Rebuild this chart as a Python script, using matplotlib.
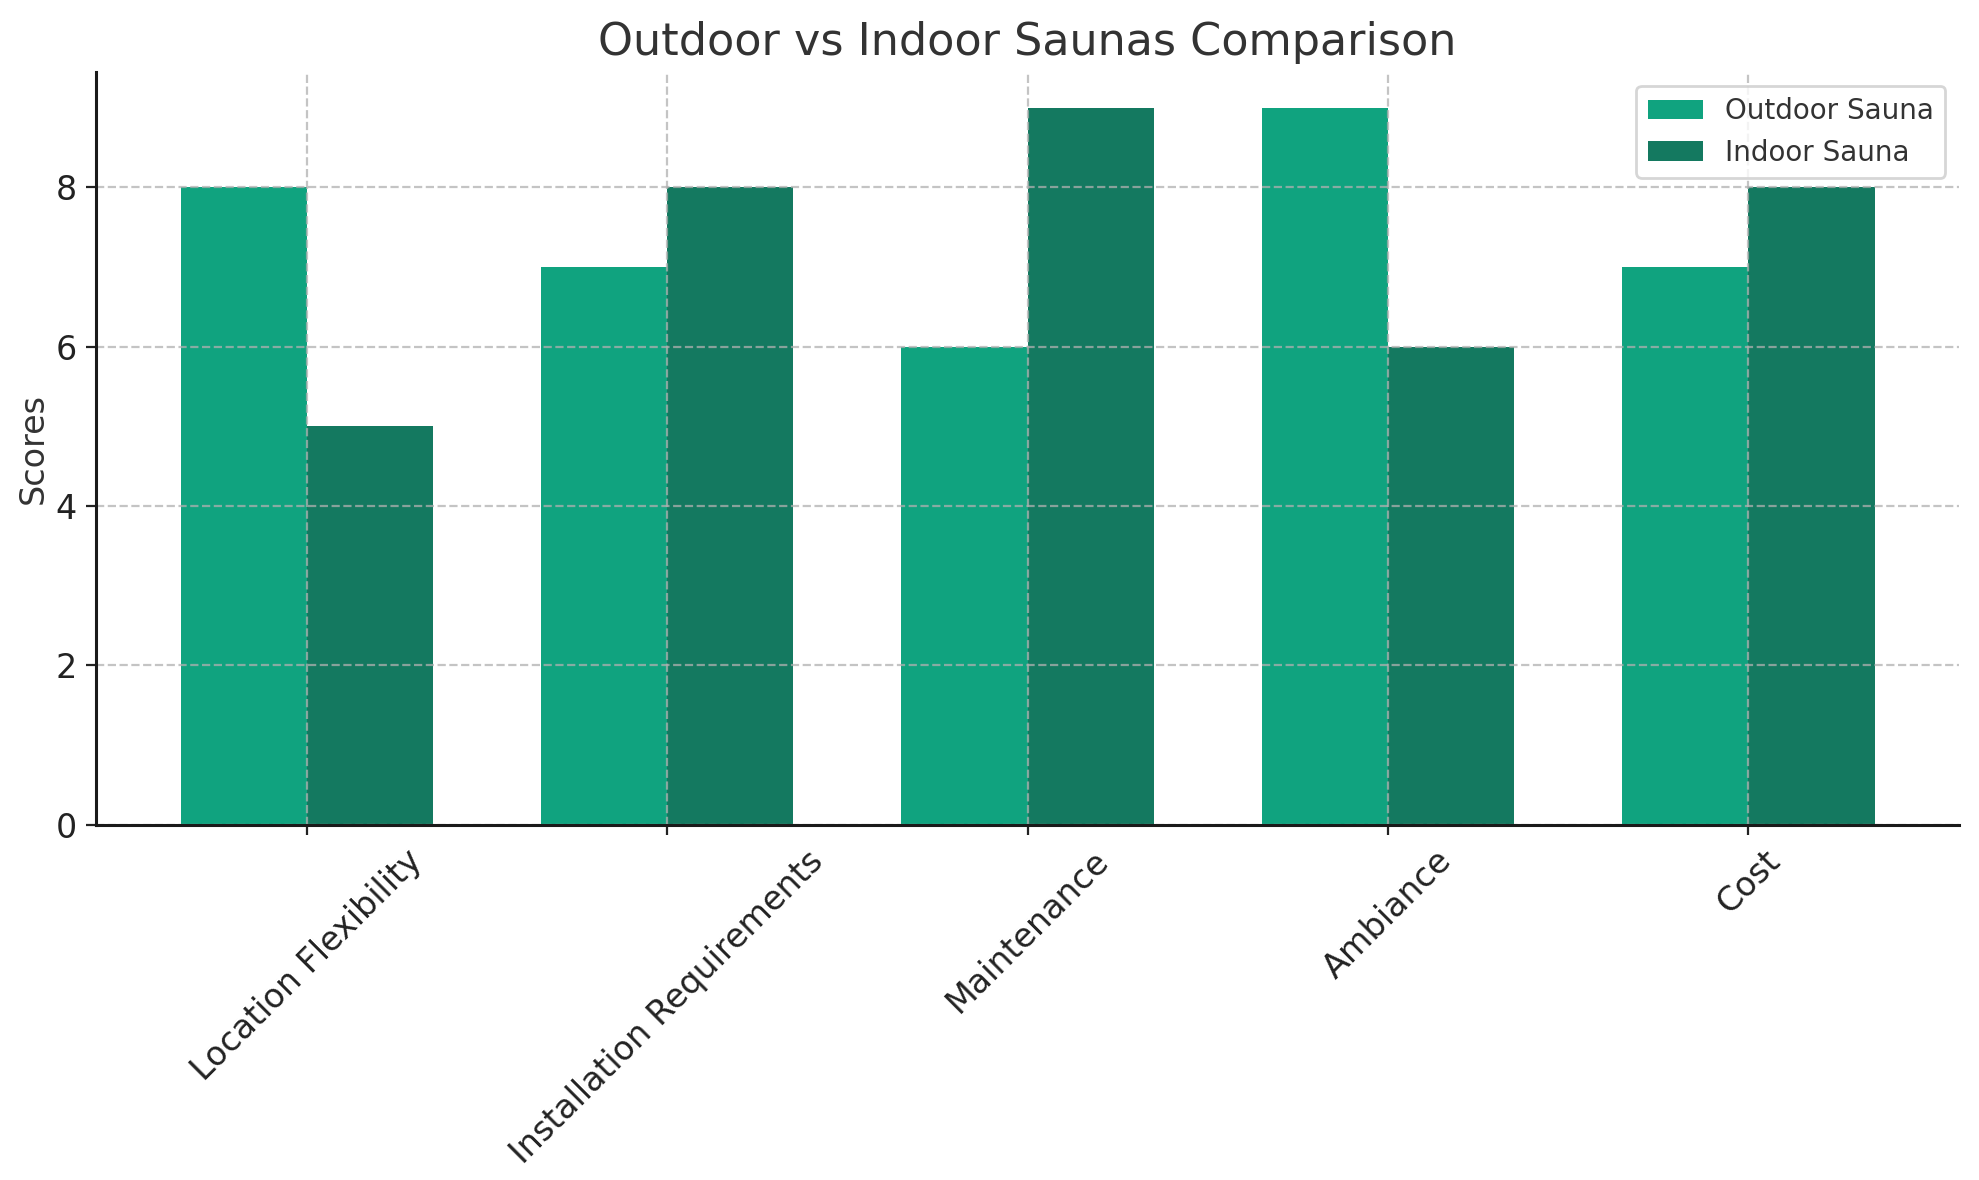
import matplotlib
matplotlib.use("Agg")
import matplotlib.pyplot as plt
import numpy as np

# data
categories = ["Location Flexibility", "Installation Requirements", "Maintenance", "Ambiance", "Cost"]
outdoor = [8, 7, 6, 9, 7]
indoor = [5, 8, 9, 6, 8]

outdoor_color = "#10a37f"
indoor_color = "#147960"
text_color = "#333333"


def main():
    fig, ax = plt.subplots(figsize=(9.895, 5.9), dpi=200)
    x = np.arange(len(categories))
    w = 0.35

    ax.bar(x - w / 2, outdoor, w, label="Outdoor Sauna", color=outdoor_color)
    ax.bar(x + w / 2, indoor, w, label="Indoor Sauna", color=indoor_color)

    ax.set_title("Outdoor vs Indoor Saunas Comparison", fontsize=16, color=text_color)
    ax.set_ylabel("Scores", fontsize=12, color=text_color, labelpad=2)
    ax.set_xticks(x)
    ax.set_xticklabels(categories, rotation=45, fontsize=12, color=text_color)
    ax.tick_params(axis="y", labelsize=12, colors="#222222")
    ax.tick_params(axis="x", colors="#222222")
    for lbl in ax.get_xticklabels():
        lbl.set_color("#222222")

    # grid sits on top of the bars, semi-transparent
    ax.grid(True, linestyle="--", color="#b0b0b0", linewidth=0.8, alpha=0.75)
    ax.set_axisbelow(False)
    for side in ["top", "right"]:
        ax.spines[side].set_visible(False)
    for side in ["left", "bottom"]:
        ax.spines[side].set_color("#1a1a1a")
        ax.spines[side].set_linewidth(1.1)
        ax.spines[side].set_zorder(3)

    leg = ax.legend(fontsize=10, loc="upper right")
    for t in leg.get_texts():
        t.set_color(text_color)

    fig.subplots_adjust(left=0.0485, right=0.99, top=0.939, bottom=0.301)
    fig.savefig("out.png", dpi=200)


if __name__ == "__main__":
    main()
